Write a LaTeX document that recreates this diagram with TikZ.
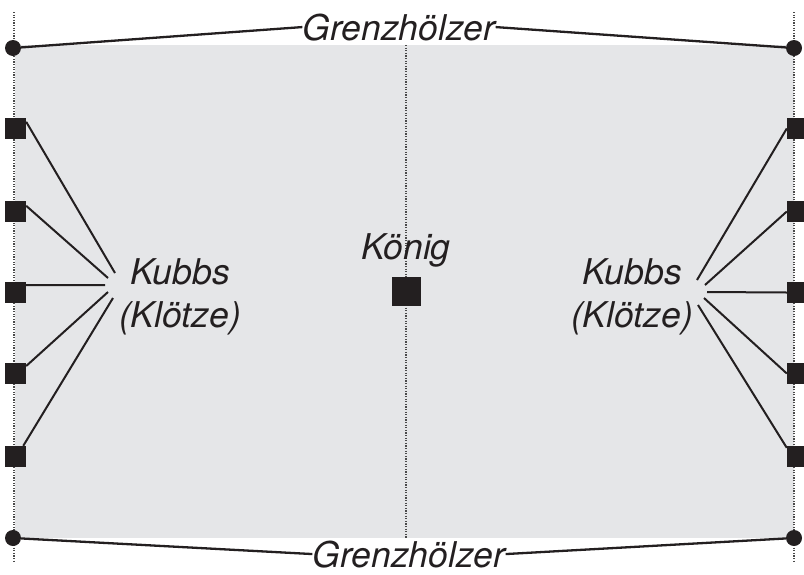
\documentclass[tikz,border=0pt]{standalone}
\usepackage{fontspec}
\setmainfont{TeX Gyre Heros}
\definecolor{ink}{HTML}{231F20}
\definecolor{field}{HTML}{E5E6E8}
\definecolor{dots}{HTML}{4A4A4A}
\begin{document}
\begin{tikzpicture}[x=1pt,y=-1pt,
  dotline/.style={draw=dots,line width=1.3pt,dash pattern=on 1.2pt off 1.4pt},
  post/.style={circle,fill=ink,inner sep=0pt,minimum size=16pt},
  kubb/.style={rectangle,fill=ink,inner sep=0pt,minimum size=21pt},
  king/.style={rectangle,fill=ink,inner sep=0pt,minimum size=29pt},
  lbl/.style={inner sep=0pt,text=ink,font=\fontsize{35.5}{43}\selectfont\itshape},
  border/.style={draw=ink,line width=2.3pt},
  pointer/.style={draw=ink,line width=2pt}]
\useasboundingbox (0,0) rectangle (804,574);
\fill[field] (15,45) rectangle (794,538);
\draw[dotline] (14,12) -- (14,562);
\draw[dotline] (794,12) -- (794,562);
\draw[dotline] (406,45) -- (406,538);
% posts
\node[post] (tl) at (13,48) {};
\node[post] (tr) at (794,48) {};
\node[post] (bl) at (13,538) {};
\node[post] (br) at (794,538) {};
% labels
\node[lbl,anchor=base] (gt) at (399,40) {Grenzhölzer};
\node[lbl,anchor=base] (gb) at (409,567) {Grenzhölzer};
\node[lbl,anchor=base] (kg) at (406,259) {König};
\node[lbl,anchor=base,align=center] (kl) at (180,327) {Kubbs\\(Klötze)};
\node[lbl,anchor=base,align=center] (kr) at (632,327) {Kubbs\\(Klötze)};
% border lines
\draw[border] (tl) -- (gt.west);
\draw[border] (gt.east) -- (tr);
\draw[border] (bl) -- (gb.west);
\draw[border] (gb.east) -- (br);
% king
\node[king] (k) at (406.5,291.5) {};
% kubbs
\foreach \i/\y in {1/128.5,2/211.5,3/292.5,4/373.5,5/456.5}{
  \node[kubb] (l\i) at (15.5,\y) {};
  \node[kubb] (r\i) at (797.5,\y) {};
}
\coordinate (a1) at (115,273);
\coordinate (a2) at (108,278);
\coordinate (a3) at (105,285);
\coordinate (a4) at (108,292);
\coordinate (a5) at (113,298);
\coordinate (b1) at (697,280);
\coordinate (b2) at (705,285);
\coordinate (b3) at (707,292);
\coordinate (b4) at (704,298);
\coordinate (b5) at (698,305);
\draw[pointer] (l1.32) -- (a1);
\draw[pointer] (l2.28) -- (a2);
\draw[pointer] (l3.35) -- (a3);
\draw[pointer] (l4.35) -- (a4);
\draw[pointer] (l5.54) -- (a5);
\draw[pointer] (r1.west) -- (b1);
\draw[pointer] (r2.west) -- (b2);
\draw[pointer] (r3.west) -- (b3);
\draw[pointer] (r4.west) -- (b4);
\draw[pointer] (r5.141) -- (b5);
\end{tikzpicture}
\end{document}
